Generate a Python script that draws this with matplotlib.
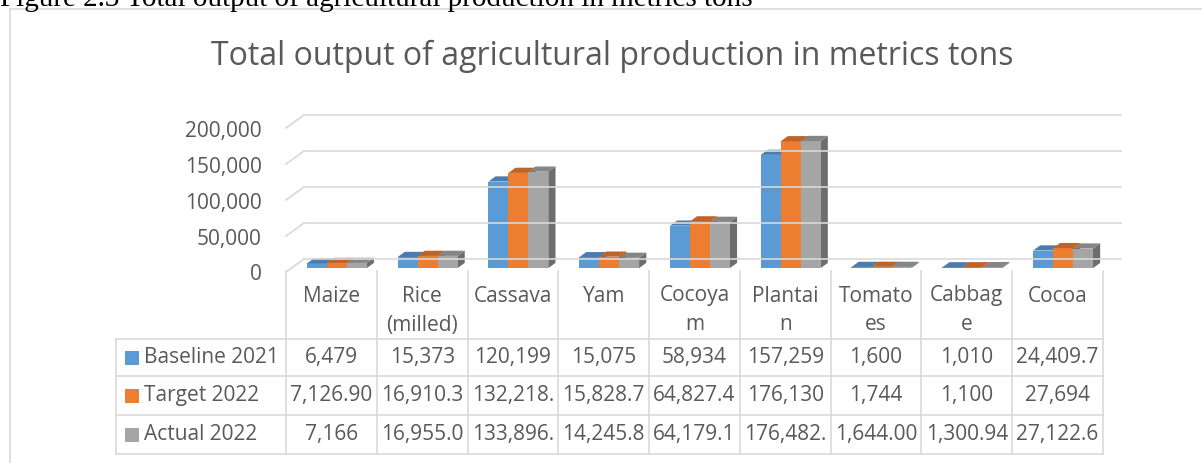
import matplotlib
matplotlib.use('Agg')
import matplotlib.pyplot as plt
from matplotlib.patches import Polygon, Rectangle
from matplotlib.lines import Line2D
from matplotlib.transforms import IdentityTransform, offset_copy
import numpy as np

# ---- data ----
categories = ['Maize', 'Rice\n(milled)', 'Cassava', 'Yam', 'Cocoya\nm', 'Plantai\nn',
              'Tomato\nes', 'Cabbag\ne', 'Cocoa']
series_names = ['Baseline 2021', 'Target 2022', 'Actual 2022']
baseline_2021 = [6479, 15373, 120199, 15075, 58934, 157259, 1600, 1010, 24409.7]
target_2022 = [7126.90, 16910.3, 132218.0, 15828.7, 64827.4, 176130, 1744, 1100, 27694]
actual_2022 = [7166, 16955.0, 133896.0, 14245.8, 64179.1, 176482.0, 1644.00, 1300.94, 27122.6]
# cell text as shown in the data table (Excel clips long numbers)
baseline_labels = ['6,479', '15,373', '120,199', '15,075', '58,934', '157,259', '1,600', '1,010', '24,409.7']
target_labels = ['7,126.90', '16,910.3', '132,218.', '15,828.7', '64,827.4', '176,130', '1,744', '1,100', '27,694']
actual_labels = ['7,166', '16,955.0', '133,896.', '14,245.8', '64,179.1', '176,482.', '1,644.00', '1,300.94', '27,122.6']
y_ticks = [0, 50000, 100000, 150000, 200000]

title = 'Total output of agricultural production in metrics tons'
caption = 'Figure 2.3 Total output of agricultural production in metrics tons'

# ---- styles ----
front_cols = ['#5B9BD5', '#ED7D31', '#A5A5A5']
top_cols = ['#4A7DAF', '#BF6428', '#858585']
side_cols = ['#3D668F', '#9C5220', '#6D6D6D']
grid_col = '#D9D9D9'
text_col = '#595959'

plt.rcParams['font.family'] = ['Open Sans', 'DejaVu Sans']

W, H = 1202, 463
fig = plt.figure(figsize=(W / 100, H / 100), dpi=100)


def fx(px):
    return px / W


def fy(py):
    return 1 - py / H


# outer chart frame
fig.patches.append(Rectangle((fx(10), -0.1), 1.5, fy(9) + 0.1, transform=fig.transFigure,
                             fill=False, edgecolor=grid_col, lw=1.2))

fig.text(0, fy(6), caption, family='Liberation Serif', size=21, va='baseline', color='black')
fig.text(fx(612), fy(65), title, ha='center', va='baseline', size=23, color=text_col)

# ---- 3D-ish column plot ----
ax = fig.add_axes([fx(286), fy(272), (1103 - 286) / W, 144 / H])
ax.set_xlim(-0.5, len(categories) - 0.5)
ax.set_ylim(0, 200000)
ax.axis('off')

DX, DY = 18, 13   # depth offset in pixels (back of the floor)
T0, T1 = 0.3, 0.7  # bar front / back depth


def proj(x, y, t):
    p = ax.transData.transform((x, y))
    return (p[0] + DX * t, p[1] + DY * t)


xmin, xmax = ax.get_xlim()
for v in y_ticks:
    for a, b in [(proj(xmin, v, 1), proj(xmax, v, 1)), (proj(xmin, v, 0), proj(xmin, v, 1))]:
        ax.add_line(Line2D([a[0], b[0]], [a[1], b[1]], transform=IdentityTransform(),
                           color=grid_col, lw=1.2, clip_on=False))
    ax.text(xmin, v, f'{v:,}', transform=offset_copy(ax.transData, fig=fig, x=-24, y=-3, units='dots'),
            ha='right', va='center', size=15, color=text_col)

series = [baseline_2021, target_2022, actual_2022]
bw = 0.22
for i in range(len(categories)):
    for k, vals in enumerate(series):
        v = vals[i]
        x0 = i - 1.5 * bw + k * bw
        x1 = x0 + bw
        side = [proj(x1, 0, T0), proj(x1, 0, T1), proj(x1, v, T1), proj(x1, v, T0)]
        front = [proj(x0, 0, T0), proj(x1, 0, T0), proj(x1, v, T0), proj(x0, v, T0)]
        top = [proj(x0, v, T0), proj(x1, v, T0), proj(x1, v, T1), proj(x0, v, T1)]
        for pts, c in [(side, side_cols[k]), (front, front_cols[k]), (top, top_cols[k])]:
            ax.add_patch(Polygon(pts, closed=True, transform=IdentityTransform(),
                                 facecolor=c, edgecolor='none', clip_on=False))

# ---- data table ----
col_w = (1103 - 286) / len(categories)
left = -0.5 - (286 - 116) / col_w
tax = fig.add_axes([fx(116), fy(454), (1103 - 116) / W, (454 - 271) / H])
tax.set_xlim(left, len(categories) - 0.5)
tax.set_ylim(183, 0)
tax.axis('off')

row_lines = [68, 105, 144, 183]
for y in row_lines:
    tax.plot([left, len(categories) - 0.5], [y, y], color=grid_col, lw=1.2, clip_on=False)
tax.plot([left, left], [68, 183], color=grid_col, lw=1.2, clip_on=False)
for j in range(len(categories) + 1):
    tax.plot([j - 0.5, j - 0.5], [0, 183], color=grid_col, lw=1.2, clip_on=False)

for i, cat in enumerate(categories):
    for n, line in enumerate(cat.split('\n')):
        tax.text(i, 25 + 29 * n, line, ha='center', va='center', size=15, color=text_col)

row_labels = [baseline_labels, target_labels, actual_labels]
for r, labels in enumerate(row_labels):
    yc = (row_lines[r] + row_lines[r + 1]) / 2
    sq_x = -0.5 + (125 - 286) / col_w
    tax.add_patch(Rectangle((sq_x, yc - 7), 14 / col_w, 14, facecolor=front_cols[r],
                            edgecolor='none', clip_on=False))
    tax.text(-0.5 + (144 - 286) / col_w, yc, series_names[r], ha='left', va='center',
             size=15, color=text_col)
    for i, lab in enumerate(labels):
        tax.text(i, yc, lab, ha='center', va='center', size=15, color=text_col)

fig.savefig('out.png', dpi=100)
